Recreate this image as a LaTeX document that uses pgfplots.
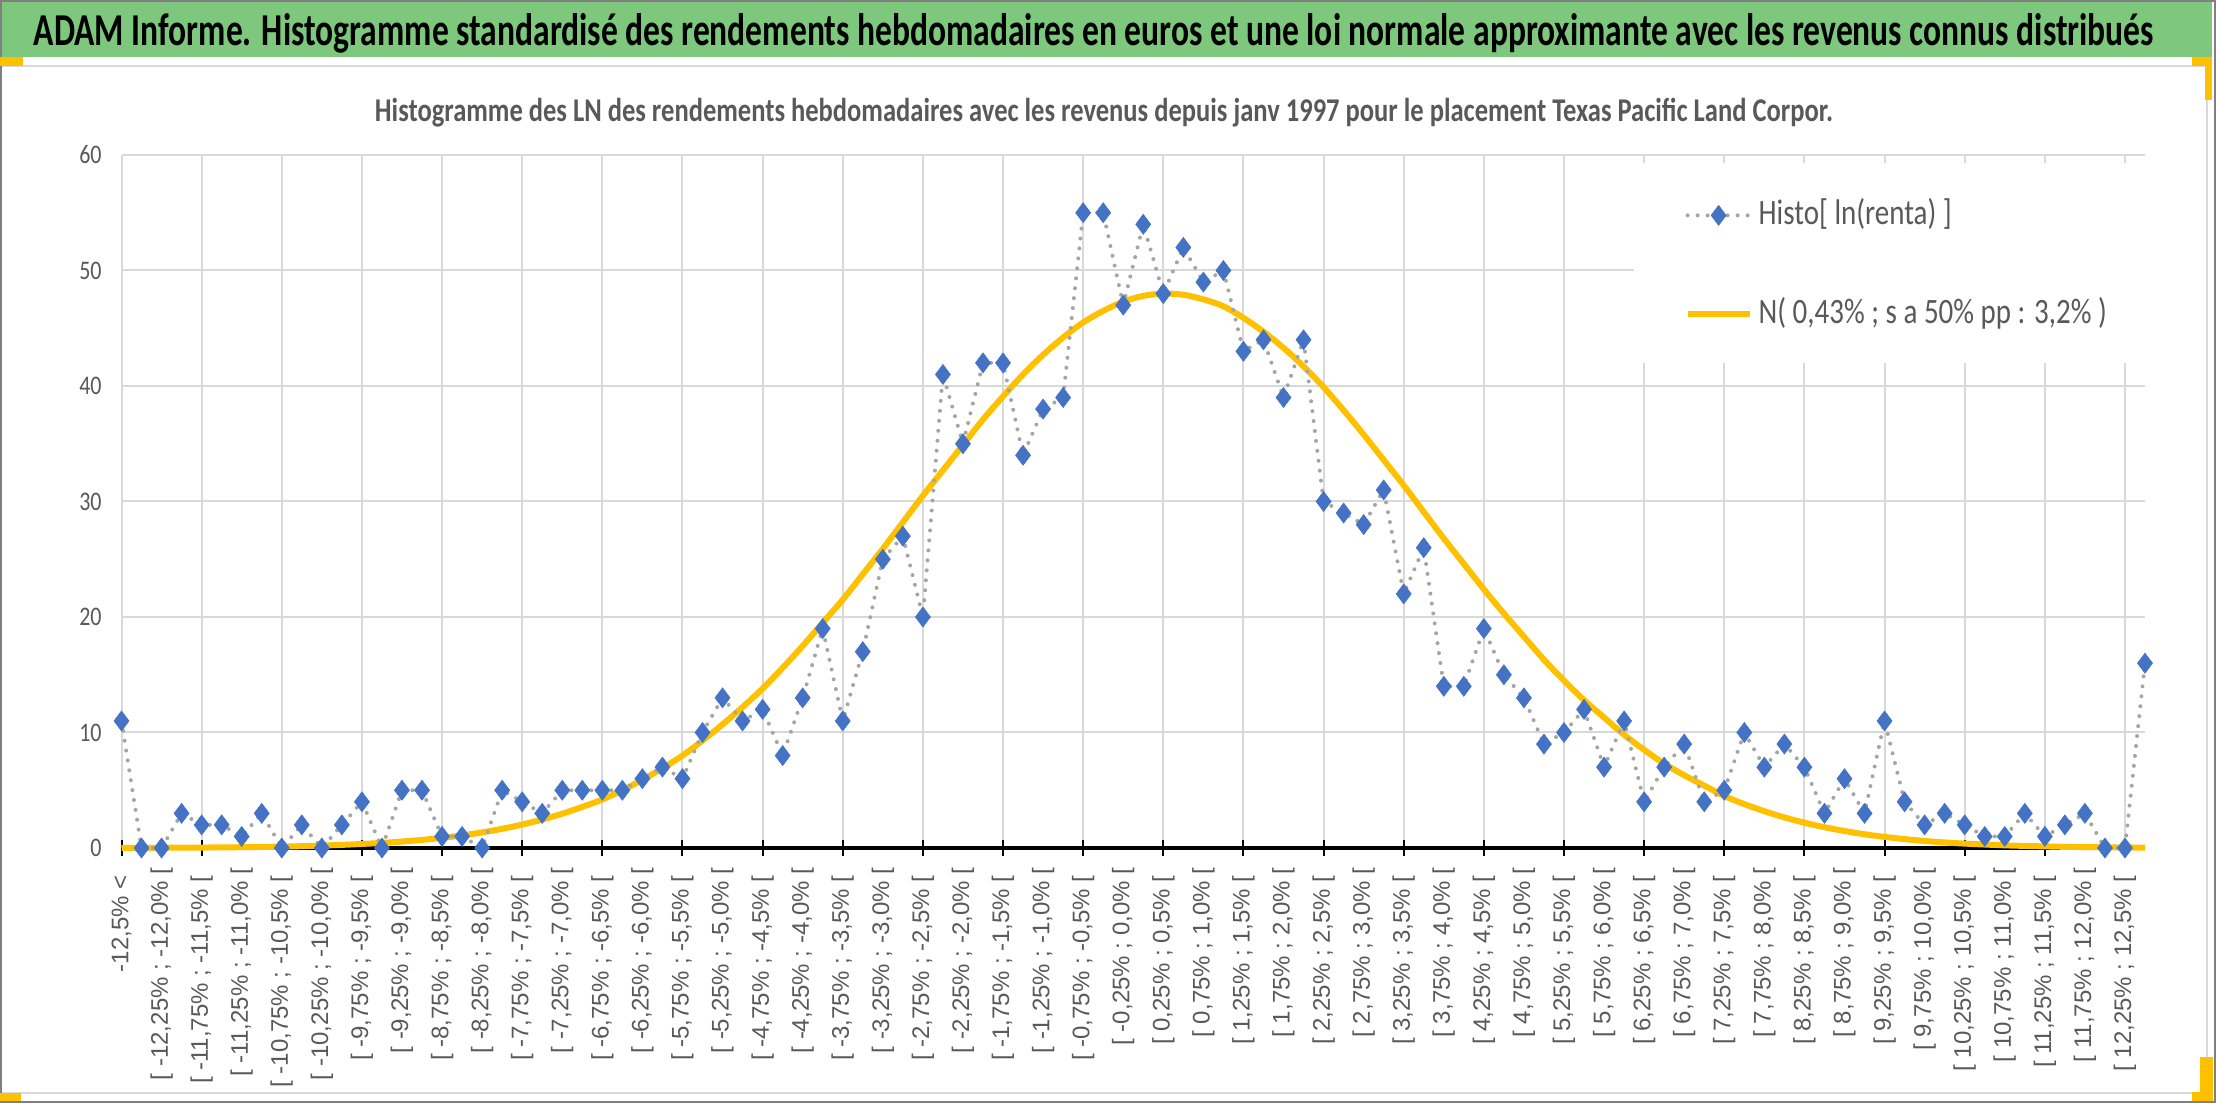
\documentclass[border=0pt]{standalone}
\usepackage{graphicx}
\usepackage{fontspec}
\setmainfont{Carlito}
\newfontfamily\arialf{Liberation Sans}
\usepackage{pgfplots}
\pgfplotsset{compat=1.18}
\usepackage{pgfplotstable}
\definecolor{gbar}{RGB}{125,200,125}
\definecolor{gold}{RGB}{255,192,0}
\definecolor{txtgray}{RGB}{89,89,89}
\definecolor{gridgray}{RGB}{217,217,217}
\definecolor{histblue}{RGB}{68,114,196}
\definecolor{dotgray}{RGB}{165,165,165}
\definecolor{framegray}{RGB}{128,128,128}

\pgfplotstableread{
i v
0 11
1 0
2 0
3 3
4 2
5 2
6 1
7 3
8 0
9 2
10 0
11 2
12 4
13 0
14 5
15 5
16 1
17 1
18 0
19 5
20 4
21 3
22 5
23 5
24 5
25 5
26 6
27 7
28 6
29 10
30 13
31 11
32 12
33 8
34 13
35 19
36 11
37 17
38 25
39 27
40 20
41 41
42 35
43 42
44 42
45 34
46 38
47 39
48 55
49 55
50 47
51 54
52 48
53 52
54 49
55 50
56 43
57 44
58 39
59 44
60 30
61 29
62 28
63 31
64 22
65 26
66 14
67 14
68 19
69 15
70 13
71 9
72 10
73 12
74 7
75 11
76 4
77 7
78 9
79 4
80 5
81 10
82 7
83 9
84 7
85 3
86 6
87 3
88 11
89 4
90 2
91 3
92 2
93 1
94 1
95 3
96 1
97 2
98 3
99 0
100 0
101 16
}\histo

\pgfplotstableread{
i n
0 0.01
1 0.02
2 0.02
3 0.03
4 0.04
5 0.05
6 0.07
7 0.09
8 0.12
9 0.16
10 0.21
11 0.27
12 0.35
13 0.44
14 0.56
15 0.70
16 0.88
17 1.09
18 1.35
19 1.66
20 2.03
21 2.46
22 2.97
23 3.56
24 4.2
25 5.0
26 5.9
27 6.9
28 8.0
29 9.3
30 10.7
31 12.2
32 13.8
33 15.6
34 17.5
35 19.5
36 21.5
37 23.7
38 25.9
39 28.2
40 30.5
41 32.7
42 34.9
43 37.1
44 39.1
45 41.0
46 42.7
47 44.2
48 45.5
49 46.5
50 47.3
51 47.8
52 48.0
53 47.9
54 47.5
55 46.9
56 45.9
57 44.7
58 43.3
59 41.7
60 39.9
61 37.9
62 35.8
63 33.6
64 31.4
65 29.1
66 26.8
67 24.6
68 22.4
69 20.3
70 18.3
71 16.3
72 14.5
73 12.8
74 11.3
75 9.8
76 8.5
77 7.3
78 6.3
79 5.4
80 4.5
81 3.8
82 3.19
83 2.65
84 2.19
85 1.80
86 1.47
87 1.19
88 0.96
89 0.77
90 0.61
91 0.48
92 0.38
93 0.30
94 0.23
95 0.18
96 0.14
97 0.10
98 0.08
99 0.06
100 0.05
101 0.03
}\normc

\begin{document}
\begin{tikzpicture}
\useasboundingbox (0pt,0pt) rectangle (1108pt,551.5pt);
\fill[white] (0pt,0pt) rectangle (1108pt,551.5pt);
\draw[gridgray, line width=1pt] (0pt,5pt) rectangle (1103.5pt,518.5pt);
\fill[gbar] (0pt,523pt) rectangle (1106pt,550.5pt);
\draw[framegray, line width=0.8pt] (0.4pt,0.4pt) rectangle (1107.6pt,551.1pt);
% selection handles
\fill[gold] (0pt,518.5pt) rectangle (11.5pt,523pt);
\fill[gold] (0pt,0.8pt) rectangle (10.5pt,5pt);
\fill[gold] (1096pt,518.5pt) rectangle (1106pt,523pt);
\fill[gold] (1102.5pt,501.5pt) rectangle (1106pt,523pt);
\fill[gold] (1100pt,0.8pt) rectangle (1106.5pt,23pt);
\fill[gold] (1096pt,0.8pt) rectangle (1106.5pt,5.5pt);
% titles
\node[anchor=base, inner sep=0pt] at (547pt,528.5pt) {\scalebox{1}[1.36]{\resizebox{1060pt}{!}{\bfseries ADAM Informe. Histogramme standardisé des rendements hebdomadaires en euros et une loi normale approximante avec les revenus connus distribués}}};
\node[anchor=base, inner sep=0pt, text=txtgray] at (552pt,490.6pt) {\scalebox{1}[1.25]{\resizebox{729pt}{!}{\bfseries Histogramme des LN des rendements hebdomadaires avec les revenus depuis janv 1997 pour le placement Texas Pacific Land Corpor.}}};
\begin{axis}[
  at={(60.75pt,127.5pt)}, anchor=south west,
  scale only axis, width=1011.75pt, height=346.5pt,
  xmin=0, xmax=101, ymin=0, ymax=60,
  clip=false,
  axis x line*=bottom, axis y line*=left,
  x axis line style={black, line width=1.75pt},
  y axis line style={draw=none},
  xtick={0,4,...,100},
  xticklabels={{-12,5\% <},{[ -11,75\% ; -11,5\% [},{[ -10,75\% ; -10,5\% [},{[ -9,75\% ; -9,5\% [},{[ -8,75\% ; -8,5\% [},{[ -7,75\% ; -7,5\% [},{[ -6,75\% ; -6,5\% [},{[ -5,75\% ; -5,5\% [},{[ -4,75\% ; -4,5\% [},{[ -3,75\% ; -3,5\% [},{[ -2,75\% ; -2,5\% [},{[ -1,75\% ; -1,5\% [},{[ -0,75\% ; -0,5\% [},{[ 0,25\% ; 0,5\% [},{[ 1,25\% ; 1,5\% [},{[ 2,25\% ; 2,5\% [},{[ 3,25\% ; 3,5\% [},{[ 4,25\% ; 4,5\% [},{[ 5,25\% ; 5,5\% [},{[ 6,25\% ; 6,5\% [},{[ 7,25\% ; 7,5\% [},{[ 8,25\% ; 8,5\% [},{[ 9,25\% ; 9,5\% [},{[ 10,25\% ; 10,5\% [},{[ 11,25\% ; 11,5\% [},{[ 12,25\% ; 12,5\% [}},
  extra x ticks={2,6,...,98},
  extra x tick labels={{[ -12,25\% ; -12,0\% [},{[ -11,25\% ; -11,0\% [},{[ -10,25\% ; -10,0\% [},{[ -9,25\% ; -9,0\% [},{[ -8,25\% ; -8,0\% [},{[ -7,25\% ; -7,0\% [},{[ -6,25\% ; -6,0\% [},{[ -5,25\% ; -5,0\% [},{[ -4,25\% ; -4,0\% [},{[ -3,25\% ; -3,0\% [},{[ -2,25\% ; -2,0\% [},{[ -1,25\% ; -1,0\% [},{[ -0,25\% ; 0,0\% [},{[ 0,75\% ; 1,0\% [},{[ 1,75\% ; 2,0\% [},{[ 2,75\% ; 3,0\% [},{[ 3,75\% ; 4,0\% [},{[ 4,75\% ; 5,0\% [},{[ 5,75\% ; 6,0\% [},{[ 6,75\% ; 7,0\% [},{[ 7,75\% ; 8,0\% [},{[ 8,75\% ; 9,0\% [},{[ 9,75\% ; 10,0\% [},{[ 10,75\% ; 11,0\% [},{[ 11,75\% ; 12,0\% [}},
  extra x tick style={grid=none, major tick length=0pt},
  ytick={0,10,...,60},
  yticklabel={\scalebox{1}[1.22]{\pgfmathprintnumber{\tick}}},
  grid=major, grid style={gridgray, line width=1pt},
  xtick align=center, major tick length=7.5pt,
  x tick style={black, line width=1pt},
  y tick style={draw=none},
  xticklabel style={font=\arialf\fontsize{12}{14}\selectfont, text=txtgray, yshift=-9.75pt, rotate=90, anchor=east, inner sep=0pt},
  yticklabel style={font=\fontsize{11}{13}\selectfont, text=txtgray, inner sep=0pt, xshift=-9.75pt},
  /pgf/number format/assume math mode=true,
  legend cell align=left,
  reverse legend,
  legend style={draw=none, fill=none, at={(0.7723,0.9384)}, anchor=north west, inner sep=0pt, row sep=32.2pt, column sep=3pt, font=\fontsize{14.5}{17}\selectfont, text=txtgray, nodes={inner sep=0pt, text height=13pt, text depth=4.3pt}},
  legend image code/.code={\draw[mark repeat=2,mark phase=2,#1] plot coordinates {(0pt,0pt) (15.5pt,0pt) (31pt,0pt)};},
]
\fill[white] (axis cs:75.5,42) rectangle (axis cs:101,59.3);
\addplot[gold, line width=3pt, smooth, no markers] table[x=i,y=n]{\normc};
\addlegendentry{\scalebox{1}[1.23]{N( 0,43\% ; s a 50\% pp : 3,2\% )}}
\addplot[dotgray, line width=2pt, dash pattern=on 0pt off 5pt, line cap=round, mark=diamond*, mark size=5pt, mark options={solid, draw=histblue, fill=histblue, line width=0.3pt}] table[x=i,y=v]{\histo};
\addlegendentry{\scalebox{1}[1.23]{Histo[ ln(renta) ]}}
\end{axis}
\end{tikzpicture}
\end{document}
